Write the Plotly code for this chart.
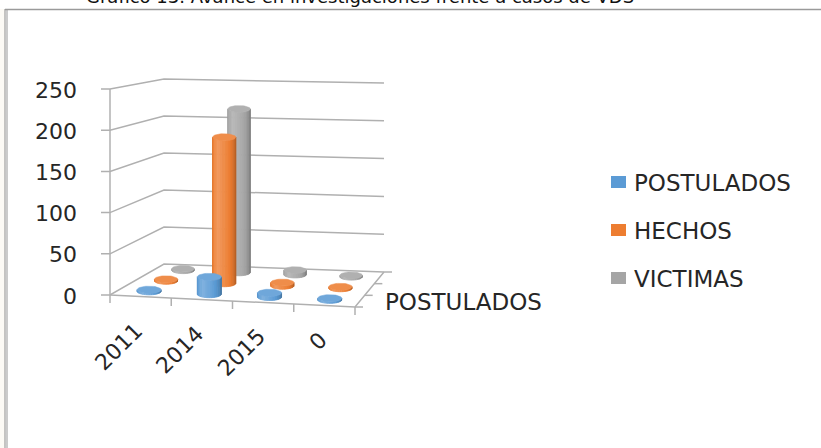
import math
import plotly.graph_objects as go

# ---- data ----
categories = ["2011", "2014", "2015", "0"]
series_names = ["POSTULADOS", "HECHOS", "VICTIMAS"]
postulados = [1, 21, 5, 0]
hechos = [1, 185, 4, 0]
victimas = [1, 215, 6, 0]
value_ticks = [0, 50, 100, 150, 200, 250]
depth_label = "POSTULADOS"
title_text = "Gráfico 13. Avance en investigaciones frente a casos de VDS"

series_values = [postulados, hechos, victimas]
series_colors = [(91, 155, 213), (237, 125, 49), (165, 165, 165)]

W, H = 821, 448
FONT = "DejaVu Sans"
TXT = "#262626"
GRID = "#b0b0b0"

# ---- 3D box projection (category u, depth w, value v) -> page pixels ----
FL, FR, BL, BR = (110, 295), (355, 307), (164, 264), (384, 272)
S_FL, S_FR, S_BL, S_BR = 206, 212, 185, 189  # pixels per full value range
VMAX = value_ticks[-1]


def floor_pt(u, w):
    x = (1-u)*(1-w)*FL[0] + u*(1-w)*FR[0] + (1-u)*w*BL[0] + u*w*BR[0]
    y = (1-u)*(1-w)*FL[1] + u*(1-w)*FR[1] + (1-u)*w*BL[1] + u*w*BR[1]
    return x, y


def vscale(u, w):
    s = (1-u)*(1-w)*S_FL + u*(1-w)*S_FR + (1-u)*w*S_BL + u*w*S_BR
    return s / VMAX


def proj(u, w, v):
    x, y = floor_pt(u, w)
    return x, y - v*vscale(u, w)


fig = go.Figure()


def poly(xs, ys, fill, line=None, lw=0):
    fig.add_trace(go.Scatter(
        x=list(xs) + [xs[0]], y=list(ys) + [ys[0]], mode="lines",
        fill="toself", fillcolor=fill,
        line=dict(color=line or fill, width=lw),
        hoverinfo="skip", showlegend=False))


def seg(pts, color=GRID, width=1.5):
    fig.add_trace(go.Scatter(
        x=[p[0] for p in pts], y=[p[1] for p in pts], mode="lines",
        line=dict(color=color, width=width), hoverinfo="skip", showlegend=False))


# floor
corners = [floor_pt(0, 0), floor_pt(1, 0), floor_pt(1, 1), floor_pt(0, 1)]
poly([c[0] for c in corners], [c[1] for c in corners], "white")

# side wall + back wall gridlines, with ticks on the value axis
for v in value_ticks:
    a, b, c = proj(0, 0, v), proj(0, 1, v), proj(1, 1, v)
    seg([(a[0]-9, a[1]), a, b, c])

# value axis line, floor edges
seg([proj(0, 0, 0), proj(0, 0, VMAX)])
seg([floor_pt(0, 0), floor_pt(1, 0), floor_pt(1, 1)])

n_cat = len(categories)
n_ser = len(series_names)
for k in range(n_cat + 1):
    x, y = floor_pt(k/n_cat, 0)
    seg([(x, y), (x, y+8)])
for k in range(n_ser + 1):
    x, y = floor_pt(1, k/n_ser)
    seg([(x, y), (x+8, y)])


# ---- cylinders ----
def mix(c, t):
    """t>0 lightens toward white, t<0 darkens toward black."""
    if t >= 0:
        r = [ci + (255-ci)*t for ci in c]
    else:
        r = [ci*(1+t) for ci in c]
    return "rgb(%d,%d,%d)" % tuple(int(round(max(0, min(255, q)))) for q in r)


def body_shade(t):
    # t: 0 at left edge .. 1 at right edge
    stops = [(0.0, -0.12), (0.33, 0.22), (0.6, 0.05), (1.0, -0.25)]
    for (t0, s0), (t1, s1) in zip(stops, stops[1:]):
        if t <= t1:
            return s0 + (s1-s0)*(t-t0)/(t1-t0)
    return stops[-1][1]


def cylinder(u, w, v, rgb):
    cx, by = floor_pt(u, w)
    x0, _ = floor_pt(u - 0.5/n_cat, w)
    x1, _ = floor_pt(u + 0.5/n_cat, w)
    rx = 0.2*(x1 - x0)
    ry = 0.3*rx
    ty = by - max(v*vscale(u, w), 1.5)
    N = 16
    for i in range(N):
        ta = math.pi*(1 - i/N)
        tb = math.pi*(1 - (i+1)/N)
        xa, xb = cx + rx*math.cos(ta), cx + rx*math.cos(tb)
        xs = [xa, xb, xb, xa]
        ys = [ty + ry*math.sin(ta), ty + ry*math.sin(tb),
              by + ry*math.sin(tb), by + ry*math.sin(ta)]
        col = mix(rgb, body_shade((i+0.5)/N))
        poly(xs, ys, col, col, 0.8)
    M = 48
    ex = [cx + rx*math.cos(2*math.pi*j/M) for j in range(M)]
    ey = [ty + ry*math.sin(2*math.pi*j/M) for j in range(M)]
    poly(ex, ey, mix(rgb, 0.12), mix(rgb, 0.12), 0.5)


for j in reversed(range(n_ser)):
    for i in range(n_cat):
        cylinder((i+0.5)/n_cat, (j+0.5)/n_ser, series_values[j][i], series_colors[j])

# ---- text ----
ann = []
for v in value_ticks:
    x, y = proj(0, 0, v)
    ann.append(dict(x=x-31, y=y+1, text=str(v), xanchor="right", yanchor="middle",
                    showarrow=False, font=dict(family=FONT, size=22, color=TXT)))
for i, c in enumerate(categories):
    x, y = floor_pt((i+0.5)/n_cat, 0)
    ann.append(dict(x=x+10, y=y+19, text=c, textangle=-45, xanchor="right", yanchor="top",
                    showarrow=False, font=dict(family=FONT, size=22, color=TXT)))
dx, dy = floor_pt(1, 0.5/n_ser)
ann.append(dict(x=dx+23, y=dy+1, text=depth_label, xanchor="left", yanchor="middle",
                showarrow=False, font=dict(family=FONT, size=23, color=TXT)))

# legend
for j, name in enumerate(series_names):
    ly = 182 + 48*j
    fig.add_shape(type="rect", x0=611, x1=626, y0=ly-6, y1=ly+6,
                  fillcolor=mix(series_colors[j], 0), line=dict(width=0))
    ann.append(dict(x=632, y=ly+1, text=name, xanchor="left", yanchor="middle",
                    showarrow=False, font=dict(family=FONT, size=23, color=TXT)))

# caption running above the frame
ann.append(dict(x=84, y=9.5, text=title_text, xanchor="left", yanchor="bottom",
                showarrow=False, font=dict(family=FONT, size=18, color="#111111")))

# frame
fig.add_shape(type="rect", x0=0, x1=5, y0=9, y1=H, fillcolor="#fcfaf5",
              line=dict(width=0), layer="below")
fig.add_shape(type="line", x0=5, x1=5, y0=9, y1=H, line=dict(color="#8c8c8c", width=1))
fig.add_shape(type="line", x0=7, x1=7, y0=9, y1=H, line=dict(color="#a8a8a8", width=1.2))
fig.add_shape(type="line", x0=5, x1=W, y0=9.5, y1=9.5, line=dict(color="#9a9a9a", width=1.5))

fig.update_layout(
    width=W, height=H, margin=dict(l=0, r=0, t=0, b=0),
    paper_bgcolor="white", plot_bgcolor="white",
    xaxis=dict(range=[0, W], visible=False, fixedrange=True),
    yaxis=dict(range=[H, 0], visible=False, fixedrange=True),
    annotations=ann, showlegend=False,
)

fig.write_html("out.html")
